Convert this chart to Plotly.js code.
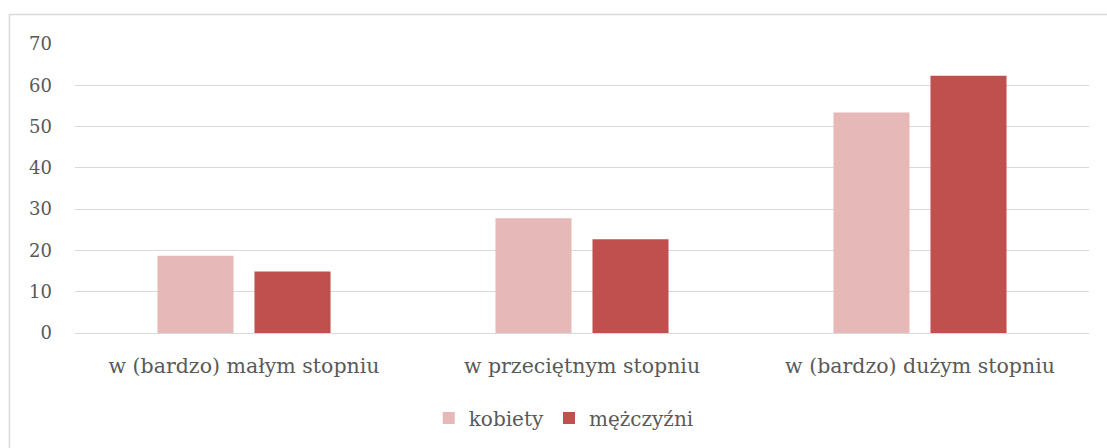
<!DOCTYPE html>
<html>
<head>
<meta charset="utf-8">
<script src="https://cdn.plot.ly/plotly-3.0.1.min.js"></script>
<style>html,body{margin:0;padding:0;background:#fff;}#chart{width:1107px;height:448px;}</style>
</head>
<body>
<div id="chart"></div>
<script>
var categories = ["w (bardzo) małym stopniu", "w przeciętnym stopniu", "w (bardzo) dużym stopniu"];
var seriesNames = ["kobiety", "mężczyźni"];
var kobiety = [18.7, 27.8, 53.4];
var mezczyzni = [14.9, 22.7, 62.3];
var yTicks = [0, 10, 20, 30, 40, 50, 60, 70];

var font = "DejaVu Serif, Liberation Serif, serif";
var textColor = "#595959";

var traces = [
  {type: "bar", name: seriesNames[0], x: categories, y: kobiety, marker: {color: "#E6B9B8"}, hoverinfo: "y"},
  {type: "bar", name: seriesNames[1], x: categories, y: mezczyzni, marker: {color: "#C0504D"}, hoverinfo: "y"}
];

var layout = {
  width: 1107, height: 448,
  margin: {l: 75, r: 18, t: 44, b: 114},
  paper_bgcolor: "#fff", plot_bgcolor: "#fff",
  barmode: "group", bargap: 0.426, bargroupgap: 0.216,
  font: {family: font, color: textColor, size: 16},
  xaxis: {
    type: "category", showgrid: false, showline: true, linecolor: "#d9d9d9", linewidth: 1,
    ticks: "", tickfont: {family: font, size: 20.5, color: textColor}, zeroline: false,
    ticklabelstandoff: 14
  },
  yaxis: {
    range: [0, 70], tickvals: yTicks, ticktext: yTicks.map(String),
    showgrid: true, gridcolor: "#d9d9d9", gridwidth: 1, zeroline: false, showline: false,
    ticks: "", tickfont: {family: font, size: 18, color: textColor}, ticklabelstandoff: 22
  },
  showlegend: true,
  legend: {orientation: "h", x: 0.482, xanchor: "center", y: -0.29, yanchor: "middle",
    font: {family: font, size: 20, color: textColor}, itemwidth: 30, traceorder: "normal"},
  shapes: [{type: "rect", xref: "paper", yref: "paper", x0: -0.0646, x1: 1.05, y0: -0.5, y1: 1.1017,
    line: {color: "#d9d9d9", width: 1.5}, fillcolor: "rgba(0,0,0,0)", layer: "below"}]
};

Plotly.newPlot("chart", traces, layout, {displayModeBar: false, staticPlot: true});
</script>
</body>
</html>
